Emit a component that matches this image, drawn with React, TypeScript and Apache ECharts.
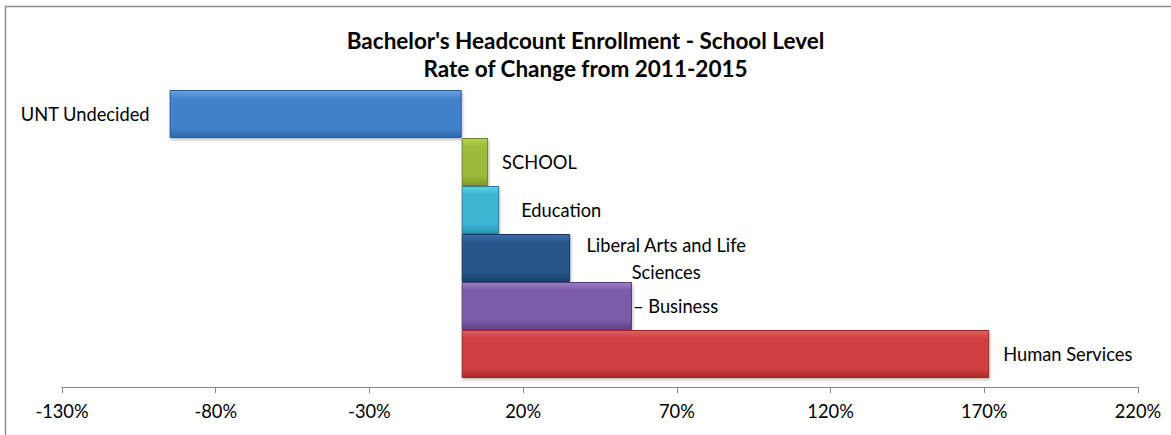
import React, { useEffect, useRef } from "react";
import * as echarts from "echarts";

const categories = [
  "UNT Undecided",
  "SCHOOL",
  "Education",
  "Liberal Arts and Life Sciences",
  "Business",
  "Human Services",
];
const values = [-95, 8.6, 12.2, 35.3, 55.4, 171.6];
const titleLines = [
  "Bachelor's Headcount Enrollment - School Level",
  "Rate of Change from 2011-2015",
];

const palette = [
  { top: "#6aa3e3", mid: "#4282cc", bot: "#2f66aa", border: "#2a5a96" },
  { top: "#b9d64f", mid: "#9bbb3b", bot: "#7d9a2a", border: "#6c8425" },
  { top: "#5fd0ea", mid: "#3cb5d3", bot: "#2893ae", border: "#247f96" },
  { top: "#3d6ea6", mid: "#265489", bot: "#1b406c", border: "#16375e" },
  { top: "#9a7ec6", mid: "#7b5ba9", bot: "#5f4388", border: "#553b7b" },
  { top: "#e85e5e", mid: "#cf3f3f", bot: "#ad2d2d", border: "#9a2727" },
];

const FONT = "Lato, 'Liberation Sans', sans-serif";
const FS = 18.3;

export default function App() {
  const ref = useRef<HTMLDivElement>(null);
  useEffect(() => {
    document.body.style.margin = "0";
    if (!ref.current) return;
    const chart = echarts.init(ref.current, null, { renderer: "svg" });

    const labelFor = (i: number) => {
      const name = categories[i];
      const v = values[i];
      const base: any = {
        show: true,
        color: "#000",
        fontFamily: FONT,
        fontSize: FS,
      };
      if (v < 0) {
        return { ...base, position: "left", distance: 20, formatter: name };
      }
      if (name === "Liberal Arts and Life Sciences") {
        return {
          ...base,
          position: "right",
          distance: 14,
          align: "center",
          offset: [82, 0],
          lineHeight: 27,
          formatter: "Liberal Arts and Life\nSciences",
        };
      }
      if (name === "Business") {
        return { ...base, position: "right", distance: 1, formatter: "– " + name };
      }
      if (name === "Education") {
        return { ...base, position: "right", distance: 22, formatter: name };
      }
      return { ...base, position: "right", distance: 14, formatter: name };
    };

    const data = values.map((v, i) => ({
      value: v,
      itemStyle: {
        color: new echarts.graphic.LinearGradient(0, 0, 0, 1, [
          { offset: 0, color: palette[i].top },
          { offset: 0.18, color: palette[i].mid },
          { offset: 0.8, color: palette[i].mid },
          { offset: 1, color: palette[i].bot },
        ]),
        borderColor: palette[i].border,
        borderWidth: 1,
        shadowColor: "rgba(0,0,0,0.25)",
        shadowBlur: 3,
        shadowOffsetX: 1,
        shadowOffsetY: 2,
      },
      label: labelFor(i),
    }));

    chart.setOption({
      animation: false,
      title: {
        text: titleLines.join("\n"),
        left: "center",
        top: 21,
        textStyle: {
          fontFamily: FONT,
          fontWeight: "bold",
          fontSize: 22.5,
          lineHeight: 28,
          color: "#000",
        },
      },
      graphic: [
        {
          type: "rect",
          shape: { x: 5.5, y: 6.5, width: 1200, height: 500 },
          style: { fill: "none", stroke: "#8c8c8c", lineWidth: 1.5 },
          silent: true,
        },
      ],
      grid: { left: 62, right: 33, top: 90, bottom: 435 - 378 },
      xAxis: {
        type: "value",
        min: -130,
        max: 220,
        interval: 50,
        offset: 9,
        splitLine: { show: false },
        axisLine: { show: true, lineStyle: { color: "#868686", width: 1 } },
        axisTick: { show: true, length: 6, lineStyle: { color: "#868686" } },
        axisLabel: {
          formatter: "{value}%",
          color: "#000",
          fontFamily: FONT,
          fontSize: FS,
          margin: 15,
        },
      },
      yAxis: {
        type: "category",
        data: categories,
        inverse: true,
        show: false,
      },
      series: [
        {
          type: "bar",
          data,
          barCategoryGap: "0%",
        },
      ],
    });
    return () => chart.dispose();
  }, []);
  return <div ref={ref} style={{ width: 1171, height: 435 }} />;
}
